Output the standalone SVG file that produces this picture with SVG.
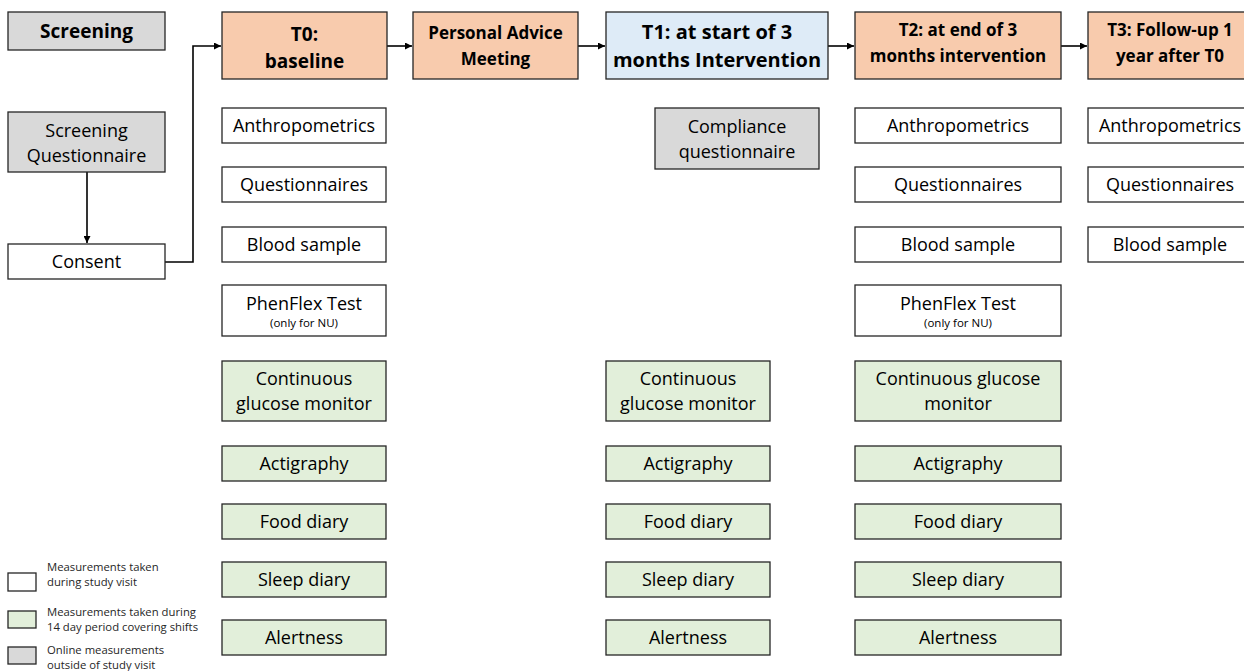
<svg xmlns="http://www.w3.org/2000/svg" width="1244" height="671" viewBox="0 0 1244 671">
<style>
rect{stroke:#262626;stroke-width:1.3}
.w{fill:#ffffff}.g{fill:#e2efda}.gr{fill:#d9d9d9}.o{fill:#f8cbad}.b{fill:#deebf7}
text{font-family:"Open Sans","Liberation Sans",sans-serif;fill:#000;text-anchor:middle}
.t{font-size:18px}.h{font-weight:bold;font-size:17px}.h19{font-weight:bold;font-size:19px}.h20{font-weight:bold;font-size:20px}
.s{font-size:11.5px}.l{font-size:11.3px;text-anchor:start;fill:#262626}
.c{fill:none;stroke:#000;stroke-width:1.6}
</style>
<defs>
<marker id="ah" viewBox="0 0 10 10" refX="10" refY="5" markerWidth="7" markerHeight="7" orient="auto" markerUnits="userSpaceOnUse"><path d="M0,0L10,5L0,10z" fill="#000"/></marker>
</defs>
<rect width="1244" height="671" fill="#fff" style="stroke:none"/>
<g id="connectors">
<path class="c" d="M87,172V243" marker-end="url(#ah)"/>
<path class="c" d="M165,262H193V46H221" marker-end="url(#ah)"/>
<path class="c" d="M387,46H412" marker-end="url(#ah)"/>
<path class="c" d="M578,46H605" marker-end="url(#ah)"/>
<path class="c" d="M828,46H854" marker-end="url(#ah)"/>
<path class="c" d="M1061,46H1087" marker-end="url(#ah)"/>
</g>
<g id="screening"><rect class="gr" x="8" y="12" width="157" height="38"/><text class="h19" x="86.5" y="38">Screening</text></g>
<g id="screening-questionnaire"><rect class="gr" x="8" y="112" width="157" height="60"/><text class="t" x="86.5" y="137">Screening</text><text class="t" x="86.5" y="162">Questionnaire</text></g>
<g id="consent"><rect class="w" x="8" y="244" width="157" height="35"/><text class="t" x="86.5" y="268">Consent</text></g>

<g id="t0"><rect class="o" x="222" y="12" width="165" height="67"/><text class="h19" x="304.5" y="41">T0:</text><text class="h19" x="304.5" y="68">baseline</text></g>
<g id="pam"><rect class="o" x="413" y="12" width="165" height="67"/><text class="h" x="495.5" y="39">Personal Advice</text><text class="h" x="495.5" y="65">Meeting</text></g>
<g id="t1"><rect class="b" x="606" y="12" width="222" height="67"/><text class="h20" x="717" y="39">T1: at start of 3</text><text class="h20" x="717" y="67">months Intervention</text></g>
<g id="t2"><rect class="o" x="855" y="12" width="206" height="67"/><text class="h" x="958" y="36">T2: at end of 3</text><text class="h" x="958" y="62">months intervention</text></g>
<g id="t3"><rect class="o" x="1088" y="12" width="166" height="67"/><text class="h" x="1170" y="36">T3: Follow-up 1</text><text class="h" x="1170" y="62">year after T0</text></g>

<g id="t0-anthro"><rect class="w" x="222" y="108" width="164" height="35"/><text class="t" x="304" y="132">Anthropometrics</text></g>
<g id="t0-quest"><rect class="w" x="222" y="167" width="164" height="35"/><text class="t" x="304" y="191">Questionnaires</text></g>
<g id="t0-blood"><rect class="w" x="222" y="227" width="164" height="35"/><text class="t" x="304" y="251">Blood sample</text></g>
<g id="t0-phenflex"><rect class="w" x="222" y="285" width="164" height="51"/><text class="t" x="304" y="310">PhenFlex Test</text><text class="s" x="304" y="327">(only for NU)</text></g>
<g id="t0-cgm"><rect class="g" x="222" y="361" width="164" height="60"/><text class="t" x="304" y="385">Continuous</text><text class="t" x="304" y="410">glucose monitor</text></g>
<g id="t0-acti"><rect class="g" x="222" y="446" width="164" height="35"/><text class="t" x="304" y="470">Actigraphy</text></g>
<g id="t0-food"><rect class="g" x="222" y="504" width="164" height="35"/><text class="t" x="304" y="528">Food diary</text></g>
<g id="t0-sleep"><rect class="g" x="222" y="562" width="164" height="35"/><text class="t" x="304" y="586">Sleep diary</text></g>
<g id="t0-alert"><rect class="g" x="222" y="620" width="164" height="35"/><text class="t" x="304" y="644">Alertness</text></g>

<g id="t1-compliance"><rect class="gr" x="655" y="108" width="164" height="61"/><text class="t" x="737" y="133">Compliance</text><text class="t" x="737" y="158">questionnaire</text></g>
<g id="t1-cgm"><rect class="g" x="606" y="361" width="164" height="60"/><text class="t" x="688" y="385">Continuous</text><text class="t" x="688" y="410">glucose monitor</text></g>
<g id="t1-acti"><rect class="g" x="606" y="446" width="164" height="35"/><text class="t" x="688" y="470">Actigraphy</text></g>
<g id="t1-food"><rect class="g" x="606" y="504" width="164" height="35"/><text class="t" x="688" y="528">Food diary</text></g>
<g id="t1-sleep"><rect class="g" x="606" y="562" width="164" height="35"/><text class="t" x="688" y="586">Sleep diary</text></g>
<g id="t1-alert"><rect class="g" x="606" y="620" width="164" height="35"/><text class="t" x="688" y="644">Alertness</text></g>

<g id="t2-anthro"><rect class="w" x="855" y="108" width="206" height="35"/><text class="t" x="958" y="132">Anthropometrics</text></g>
<g id="t2-quest"><rect class="w" x="855" y="167" width="206" height="35"/><text class="t" x="958" y="191">Questionnaires</text></g>
<g id="t2-blood"><rect class="w" x="855" y="227" width="206" height="35"/><text class="t" x="958" y="251">Blood sample</text></g>
<g id="t2-phenflex"><rect class="w" x="855" y="285" width="206" height="51"/><text class="t" x="958" y="310">PhenFlex Test</text><text class="s" x="958" y="327">(only for NU)</text></g>
<g id="t2-cgm"><rect class="g" x="855" y="361" width="206" height="60"/><text class="t" x="958" y="385">Continuous glucose</text><text class="t" x="958" y="410">monitor</text></g>
<g id="t2-acti"><rect class="g" x="855" y="446" width="206" height="35"/><text class="t" x="958" y="470">Actigraphy</text></g>
<g id="t2-food"><rect class="g" x="855" y="504" width="206" height="35"/><text class="t" x="958" y="528">Food diary</text></g>
<g id="t2-sleep"><rect class="g" x="855" y="562" width="206" height="35"/><text class="t" x="958" y="586">Sleep diary</text></g>
<g id="t2-alert"><rect class="g" x="855" y="620" width="206" height="35"/><text class="t" x="958" y="644">Alertness</text></g>

<g id="t3-anthro"><rect class="w" x="1088" y="108" width="166" height="35"/><text class="t" x="1170" y="132">Anthropometrics</text></g>
<g id="t3-quest"><rect class="w" x="1088" y="167" width="166" height="35"/><text class="t" x="1170" y="191">Questionnaires</text></g>
<g id="t3-blood"><rect class="w" x="1088" y="227" width="166" height="35"/><text class="t" x="1170" y="251">Blood sample</text></g>

<g id="legend">
<rect class="w" x="8" y="573" width="28" height="18"/>
<text class="l" x="47" y="571">Measurements taken</text><text class="l" x="47" y="586">during study visit</text>
<rect class="g" x="8" y="611" width="28" height="17"/>
<text class="l" x="47" y="616">Measurements taken during</text><text class="l" x="47" y="631">14 day period covering shifts</text>
<rect class="gr" x="8" y="647" width="28" height="17"/>
<text class="l" x="47" y="654">Online measurements</text><text class="l" x="47" y="669">outside of study visit</text>
</g>
</svg>
